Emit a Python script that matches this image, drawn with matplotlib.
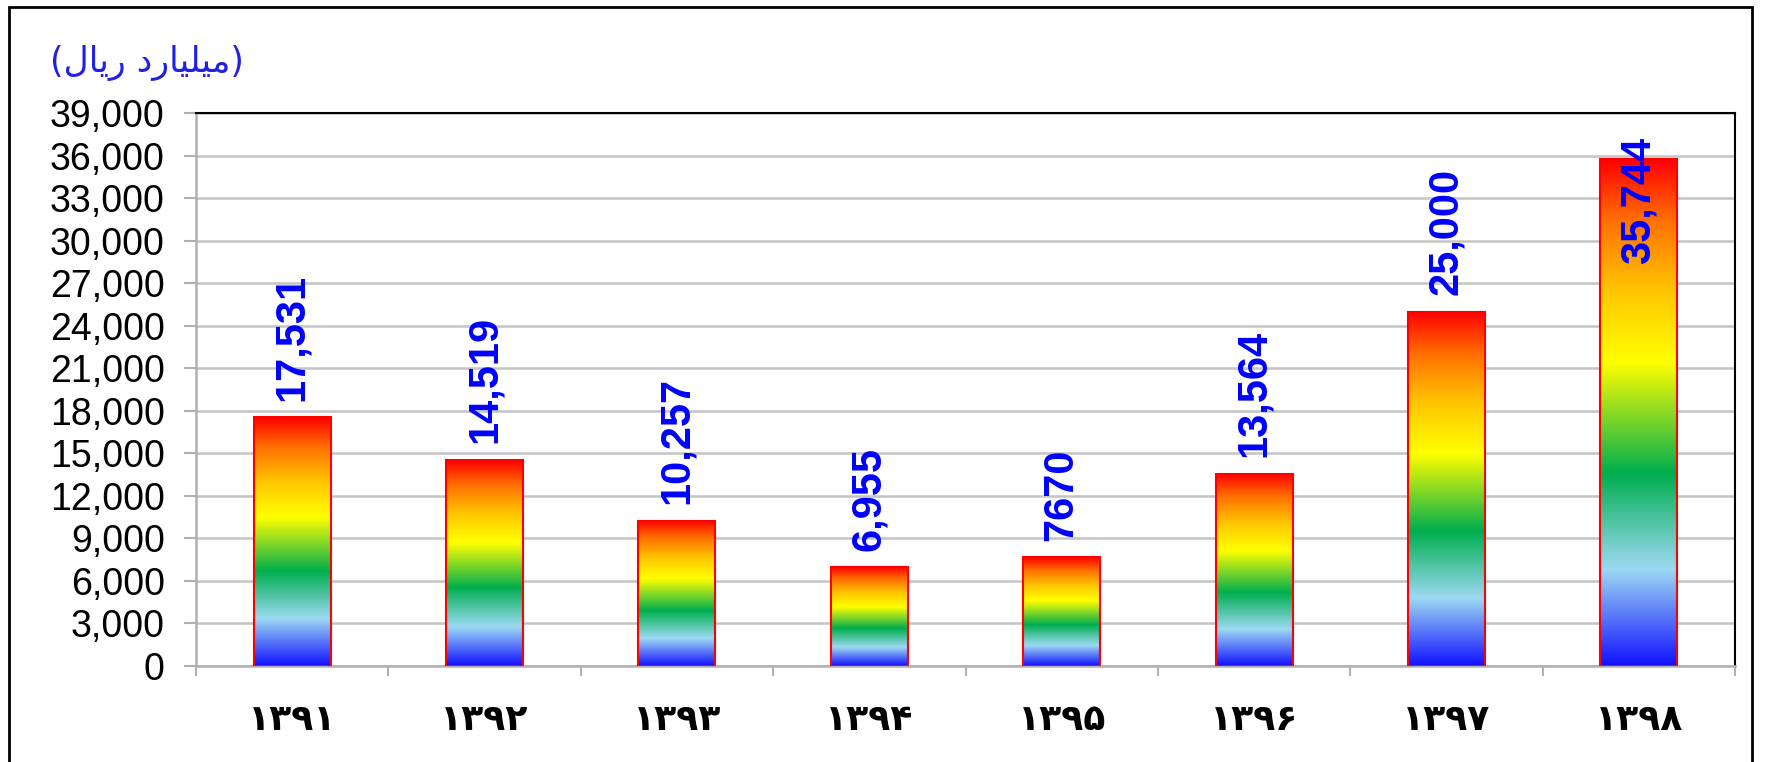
import matplotlib
matplotlib.use("Agg")
import matplotlib.pyplot as plt
import numpy as np
from matplotlib.colors import LinearSegmentedColormap
from matplotlib.patches import Rectangle

# Data
years = ["۱۳۹۱", "۱۳۹۲", "۱۳۹۳", "۱۳۹۴", "۱۳۹۵", "۱۳۹۶", "۱۳۹۷", "۱۳۹۸"]
values = [17531, 14519, 10257, 6955, 7670, 13564, 25000, 35744]
value_labels = ["17,531", "14,519", "10,257", "6,955", "7670", "13,564", "25,000", "35,744"]
yticks = list(range(0, 39001, 3000))
# "(میلیارد ریال)" written with pre-joined presentation forms, in visual order
unit_label = "(\uFEDD\uFE8E\uFEF3\uFEAD \uFEA9\uFEAD\uFE8E\uFEF4\uFEE0\uFEF4\uFEE3)"

W, H, DPI = 1767, 762, 100
fig = plt.figure(figsize=(W / DPI, H / DPI), dpi=DPI)
fig.patch.set_facecolor("white")

# outer chart frame
fig.add_artist(Rectangle((9 / W, -0.05), (1752 - 9) / W, 1.05 - 7 / H,
                         transform=fig.transFigure, fill=False,
                         edgecolor="black", linewidth=2, clip_on=False))

ax = fig.add_axes([196 / W, 1 - 666 / H, (1735 - 196) / W, (666 - 113) / H])

grad = LinearSegmentedColormap.from_list("bar_grad", [
    (0.00, "#1212FF"),
    (0.19, "#9DD9F3"),
    (0.38, "#00AE4F"),
    (0.60, "#FFFF00"),
    (0.74, "#FFC600"),
    (0.88, "#FF7000"),
    (1.00, "#FF0000"),
])

x = np.arange(len(values))
bars = ax.bar(x, values, width=0.40, facecolor="none", edgecolor="#FF0000",
              linewidth=1.5, zorder=3)

ramp = np.linspace(0, 1, 256).reshape(-1, 1)
for b in bars:
    x0, w, h = b.get_x(), b.get_width(), b.get_height()
    ax.imshow(ramp, cmap=grad, origin="lower", aspect="auto",
              extent=(x0, x0 + w, 0, h), zorder=2, interpolation="bilinear")

ax.set_xlim(-0.5, len(values) - 0.5)
ax.set_ylim(0, 39000)

# value labels above bars; a label that would run past the top goes inside
label_font = dict(family="Liberation Sans", weight="bold", size=30, color="#0000FF")
for b, lab in zip(bars, value_labels):
    cx = b.get_x() + b.get_width() / 2
    h = b.get_height()
    if h > 30000:
        ax.annotate(lab, (cx, 39000), xytext=(0, -17), textcoords="offset points",
                    rotation=90, ha="center", va="top", zorder=4, **label_font)
    else:
        ax.annotate(lab, (cx, h), xytext=(0, 12), textcoords="offset points",
                    rotation=90, ha="center", va="bottom", zorder=4, **label_font)

# grid and axes styling
ax.set_yticks(yticks)
ax.set_yticklabels([f"{v:,}" for v in yticks], fontfamily="Liberation Sans",
                   fontsize=27)
ax.yaxis.grid(True, color="#C4C4C4", linewidth=1.8, zorder=0)
ax.set_axisbelow(True)
ax.tick_params(axis="y", length=8.5, width=1.5, color="#B0B0B0", pad=14)

ax.set_xticks(x)
ax.set_xticklabels(years, fontfamily="DejaVu Sans", fontweight="bold", fontsize=26)
ax.set_xticks(np.arange(-0.5, len(values), 1.0), minor=True)
ax.tick_params(axis="x", which="major", length=0, pad=27)
ax.tick_params(axis="x", which="minor", length=7, width=1.5, color="#B0B0B0")

for side in ("left", "bottom"):
    ax.spines[side].set_color("#B0B0B0")
    ax.spines[side].set_linewidth(1.8)
for side in ("top", "right"):
    ax.spines[side].set_color("black")
    ax.spines[side].set_linewidth(1.5)

fig.text(50 / W, 1 - 63 / H, unit_label, fontfamily="DejaVu Sans", fontsize=25,
         color="#2020E6", ha="left", va="center")

fig.savefig("out.png", dpi=DPI, facecolor="white")
